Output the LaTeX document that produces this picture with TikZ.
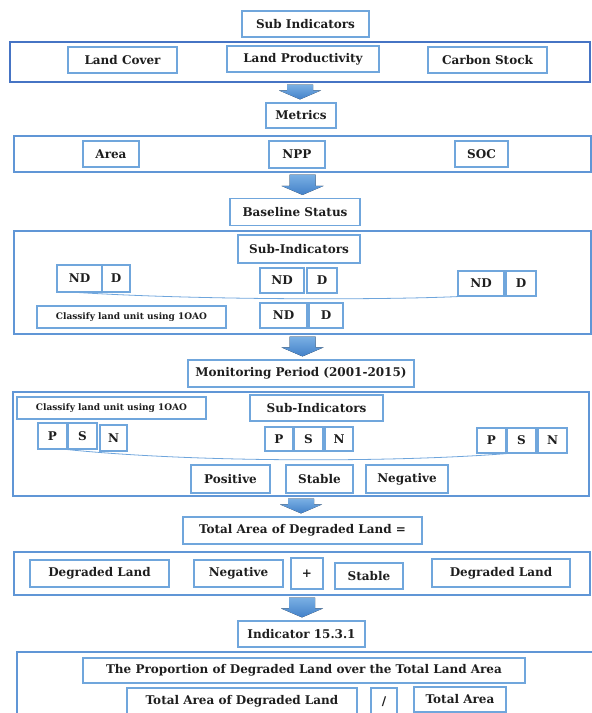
\documentclass[tikz,border=0pt]{standalone}
\usepackage{fontspec}
\setmainfont{DejaVu Serif}
\usepackage{tikz}
\usetikzlibrary{calc}

\definecolor{boxblue}{RGB}{112,166,220}
\definecolor{outblue}{RGB}{96,150,214}
\definecolor{darkblue}{RGB}{70,116,196}
\definecolor{arrtop}{RGB}{122,176,228}
\definecolor{arrbot}{RGB}{66,128,200}
\definecolor{curveblue}{RGB}{110,165,220}
\definecolor{ink}{RGB}{30,30,30}

% block arrow from one frame down to the next title
\newcommand{\bigarrow}[2]{%
  \fill[top color=arrtop, bottom color=arrbot]
    ($(#1.south)+(-13,2)$) -- ($(#1.south)+(13,2)$) -- ($(#1.south |- #2.north)+(13,-12)$)
    -- ($(#1.south |- #2.north)+(21,-12)$) -- ($(#1.south |- #2.north)+(0,-3)$)
    -- ($(#1.south |- #2.north)+(-21,-12)$) -- ($(#1.south |- #2.north)+(-13,-12)$) -- cycle;}

\begin{document}
\begin{tikzpicture}[x=1pt, y=-1pt,
    box/.style={draw=boxblue, line width=1.2pt, inner sep=0pt, text=ink,
      font=\fontsize{12}{14}\selectfont\bfseries},
    small/.style={box, font=\fontsize{9}{11}\selectfont\bfseries},
    frame/.style={draw=outblue, line width=1.2pt, inner sep=0pt},
    curve/.style={draw=curveblue, line width=0.8pt}]
        \useasboundingbox (0,0) rectangle (592,713);
        \clip (0,0) rectangle (592,713);

        % sub indicators
        \node[box, minimum width=127, minimum height=26] (sub) at (305.5,24) {Sub Indicators};
        \node[frame, draw=darkblue, minimum width=580, minimum height=40] (out1) at (300,62) {};
        \node[box, minimum width=109, minimum height=26] (lc) at (122.5,60) {Land Cover};
        \node[box, minimum width=152, minimum height=26] (lp) at (303,59) {Land Productivity};
        \node[box, minimum width=119, minimum height=26] (cs) at (487.5,60) {Carbon Stock};

        % metrics
        \node[box, minimum width=70, minimum height=25] (met) at (301,115.5) {Metrics};
        \node[frame, minimum width=577, minimum height=36] (out2) at (302.5,154) {};
        \node[box, minimum width=56, minimum height=26] (area) at (111,154) {Area};
        \node[box, minimum width=56, minimum height=27] (npp) at (297,154.5) {NPP};
        \node[box, minimum width=53, minimum height=26] (soc) at (481.5,154) {SOC};

        % baseline
        \node[box, minimum width=130, minimum height=27] (base) at (295,212) {Baseline Status};
        \node[frame, minimum width=577, minimum height=103] (out3) at (302.5,282.5) {};
        \node[box, minimum width=122, minimum height=28] (subb) at (299,249) {Sub-Indicators};
        \node[box, minimum width=45, minimum height=27] (ndL) at (79.5,278.5) {ND};
        \node[box, minimum width=28, minimum height=27] (dL) at (116,278.5) {D};
        \node[box, minimum width=44, minimum height=25] (ndM) at (282,280.5) {ND};
        \node[box, minimum width=30, minimum height=25] (dM) at (322,280.5) {D};
        \node[box, minimum width=46, minimum height=25] (ndR) at (481,283.5) {ND};
        \node[box, minimum width=30, minimum height=25] (dR) at (521,283.5) {D};
        \node[small, minimum width=189, minimum height=22] (clsB) at (131.5,317) {Classify land unit using 1OAO};
        \node[box, minimum width=47, minimum height=25] (ndB) at (283.5,315.5) {ND};
        \node[box, minimum width=34, minimum height=25] (dB) at (326,315.5) {D};
        \draw[curve] (ndL.south) .. controls (200,300) and (380,300) .. (ndR.south west);

        % monitoring
        \node[box, minimum width=226, minimum height=27] (mon) at (301,373.5) {Monitoring Period (2001-2015)};
        \node[frame, minimum width=576, minimum height=104] (out4) at (301,444) {};
        \node[small, minimum width=189, minimum height=22] (clsM) at (111.5,408) {Classify land unit using 1OAO};
        \node[box, minimum width=133, minimum height=26] (subm) at (316.5,408) {Sub-Indicators};
        \node[box, minimum width=29, minimum height=26] (pL) at (52.5,436) {P};
        \node[box, minimum width=29, minimum height=26] (sL) at (82.5,436) {S};
        \node[box, minimum width=27, minimum height=26] (nL) at (113.5,438) {N};
        \node[box, minimum width=28, minimum height=24] (pM) at (279,439) {P};
        \node[box, minimum width=29, minimum height=24] (sM) at (308.5,439) {S};
        \node[box, minimum width=28, minimum height=24] (nM) at (339,439) {N};
        \node[box, minimum width=29, minimum height=25] (pR) at (491.5,440.5) {P};
        \node[box, minimum width=29, minimum height=25] (sR) at (521.5,440.5) {S};
        \node[box, minimum width=29, minimum height=25] (nR) at (552.5,440.5) {N};
        \draw[curve] (pL.south east) .. controls (200,463) and (400,462) .. (sR.south west);
        \node[box, minimum width=79, minimum height=28] (pos) at (230.5,479) {Positive};
        \node[box, minimum width=67, minimum height=28] (stb) at (319.5,479) {Stable};
        \node[box, minimum width=82, minimum height=28] (neg) at (407,479) {Negative};

        % total degraded
        \node[box, minimum width=239, minimum height=27] (tot) at (302.5,530.5) {Total Area of Degraded Land =};
        \node[frame, minimum width=576, minimum height=43] (out5) at (302,573.5) {};
        \node[box, minimum width=139, minimum height=27] (dl1) at (99.5,573.5) {Degraded Land};
        \node[box, minimum width=89, minimum height=27] (negv) at (238.5,573.5) {Negative};
        \node[box, minimum width=32, minimum height=31] (plus) at (307,573.5) {+};
        \node[box, minimum width=68, minimum height=26] (stbv) at (369,576) {Stable};
        \node[box, minimum width=138, minimum height=28] (dl2) at (501,573) {Degraded Land};

        % indicator
        \node[box, minimum width=127, minimum height=26] (ind) at (301.5,634) {Indicator 15.3.1};
        \node[frame, minimum width=586, minimum height=96] (out6) at (310,700) {};
        \node[box, minimum width=442, minimum height=25] (prop) at (304,670.5) {The Proportion of Degraded Land over the Total Land Area};
        \node[box, minimum width=230, minimum height=26] (tadl) at (242,701) {Total Area of Degraded Land};
        \node[box, minimum width=26, minimum height=28] (slash) at (384,702) {/};
        \node[box, minimum width=92, minimum height=25] (ta) at (460,699.5) {Total Area};

        \bigarrow{out1}{met}
        \bigarrow{out2}{base}
        \bigarrow{out3}{mon}
        \bigarrow{out4}{tot}
        \bigarrow{out5}{ind}
    \end{tikzpicture}
\end{document}
